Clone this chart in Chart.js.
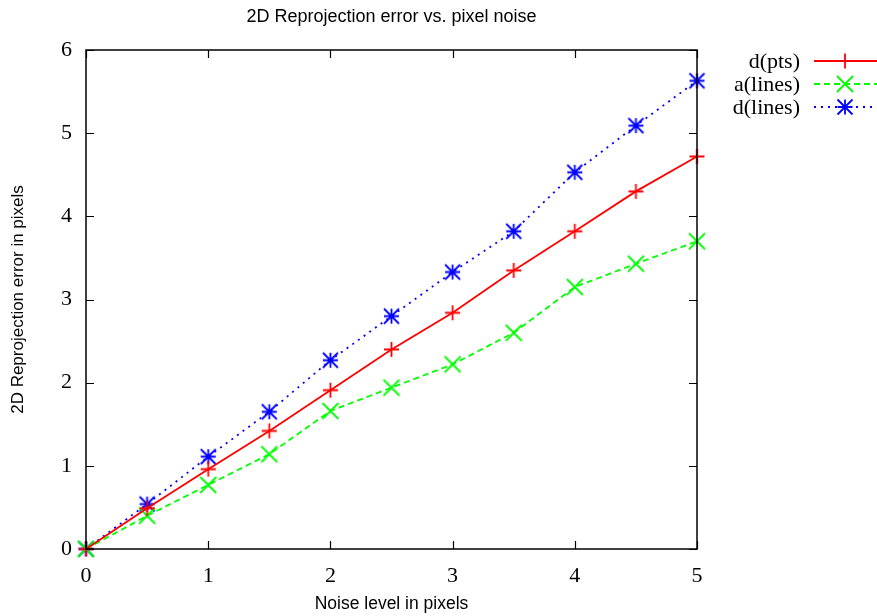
<!DOCTYPE html>
<html>
<head>
<meta charset="utf-8">
<script src="https://cdn.jsdelivr.net/npm/chart.js@4/dist/chart.umd.min.js"></script>
<style>
  html, body { margin: 0; padding: 0; background: #ffffff; }
  #wrap { width: 877px; height: 616px; position: relative; }
</style>
</head>
<body>
<div id="wrap"><canvas id="c" width="877" height="616"></canvas></div>
<script>
// ---- data ----
const noiseLevels = [0, 0.5, 1, 1.5, 2, 2.5, 3, 3.5, 4, 4.5, 5];
const dPts   = [0, 0.49, 0.96, 1.42, 1.91, 2.40, 2.84, 3.35, 3.82, 4.30, 4.72];
const aLines = [0, 0.40, 0.77, 1.14, 1.66, 1.94, 2.22, 2.60, 3.15, 3.43, 3.70];
const dLines = [0, 0.54, 1.11, 1.65, 2.27, 2.80, 3.33, 3.82, 4.53, 5.09, 5.63];
const seriesNames = ['d(pts)', 'a(lines)', 'd(lines)'];
const xTicks = [0, 1, 2, 3, 4, 5];
const yTicks = [0, 1, 2, 3, 4, 5, 6];
const chartTitle = '2D Reprojection error vs. pixel noise';
const xTitle = 'Noise level in pixels';
const yTitle = '2D Reprojection error in pixels';

const SERIF = '"Liberation Serif", "Times New Roman", serif';
const SANS = '"Liberation Sans", Arial, Helvetica, sans-serif';

function pts(ys) { return noiseLevels.map((x, i) => ({ x: x, y: ys[i] })); }

// gnuplot-style marker drawing (plus, x, asterisk with equal half-size s)
function drawMarker(ctx, kind, cx, cy, s) {
  ctx.beginPath();
  if (kind === 'plus' || kind === 'aster') {
    ctx.moveTo(cx - s, cy); ctx.lineTo(cx + s, cy);
    ctx.moveTo(cx, cy - s); ctx.lineTo(cx, cy + s);
  }
  if (kind === 'x' || kind === 'aster') {
    ctx.moveTo(cx - s, cy - s); ctx.lineTo(cx + s, cy + s);
    ctx.moveTo(cx - s, cy + s); ctx.lineTo(cx + s, cy - s);
  }
  ctx.stroke();
}
function markerImage(kind, s, color, lw) {
  const n = Math.ceil(2 * s + 4);
  const c = document.createElement('canvas');
  c.width = n; c.height = n;
  const ctx = c.getContext('2d');
  ctx.strokeStyle = color; ctx.lineWidth = lw;
  drawMarker(ctx, kind, n / 2, n / 2, s);
  return c;
}

const colors = ['#ff0000', '#00ff00', '#0000ff'];
const kinds = ['plus', 'x', 'aster'];
const sizes = [7.5, 8, 7.5];
const dashes = [[], [6, 4], [2, 5]];
const values = [dPts, aLines, dLines];

const frame = {
  id: 'gnuplotFrame',
  afterDatasetsDraw(chart) {
    const ctx = chart.ctx, a = chart.chartArea;
    const xs = chart.scales.x, ys = chart.scales.y;
    ctx.save();
    ctx.strokeStyle = '#000';
    ctx.lineWidth = 1.5;
    ctx.setLineDash([]);
    ctx.strokeRect(a.left, a.top, a.right - a.left, a.bottom - a.top);
    ctx.lineWidth = 1.2;
    const L = 8;
    ctx.beginPath();
    xTicks.forEach(v => {
      const px = Math.round(xs.getPixelForValue(v)) + 0.5;
      ctx.moveTo(px, a.bottom); ctx.lineTo(px, a.bottom - L);
      ctx.moveTo(px, a.top); ctx.lineTo(px, a.top + L);
    });
    yTicks.forEach(v => {
      const py = Math.round(ys.getPixelForValue(v)) + 0.5;
      ctx.moveTo(a.left, py); ctx.lineTo(a.left + L, py);
      ctx.moveTo(a.right, py); ctx.lineTo(a.right - L, py);
    });
    ctx.stroke();

    // legend (gnuplot style, right side)
    const rows = [61, 84, 107];
    chart.data.datasets.forEach((ds, i) => {
      const y = rows[i];
      ctx.fillStyle = '#000';
      ctx.font = '22px ' + SERIF;
      ctx.textAlign = 'right';
      ctx.textBaseline = 'middle';
      ctx.fillText(ds.label, 800, y + 1);
      ctx.strokeStyle = colors[i];
      ctx.lineWidth = ds.borderWidth;
      ctx.setLineDash(ds.borderDash || []);
      ctx.beginPath();
      ctx.moveTo(814, y); ctx.lineTo(877, y);
      ctx.stroke();
      ctx.setLineDash([]);
      ctx.lineWidth = 1.8;
      drawMarker(ctx, kinds[i], 845, y, sizes[i]);
    });
    ctx.restore();
  }
};

new Chart(document.getElementById('c'), {
  type: 'scatter',
  data: {
    datasets: values.map((v, i) => ({
      label: seriesNames[i],
      data: pts(v),
      showLine: true,
      borderColor: colors[i],
      backgroundColor: colors[i],
      borderWidth: 1.8,
      borderDash: dashes[i],
      pointStyle: markerImage(kinds[i], sizes[i], colors[i], 1.8),
      pointRadius: sizes[i],
      pointHoverRadius: sizes[i],
      tension: 0,
      clip: false
    }))
  },
  options: {
    responsive: false,
    animation: false,
    events: [],
    layout: { padding: { left: 0, right: 180, top: 0, bottom: 0 } },
    plugins: {
      legend: { display: false },
      tooltip: { enabled: false },
      title: {
        display: true,
        text: chartTitle,
        fullSize: false,
        color: '#000',
        font: { family: SANS, size: 18, weight: 'normal' },
        padding: { top: 6.5, bottom: 21.9 }
      }
    },
    scales: {
      x: {
        type: 'linear', min: 0, max: 5,
        afterFit(s) { s.height = 67; },
        afterBuildTicks(s) { s.ticks = xTicks.map(v => ({ value: v })); },
        grid: { display: false, drawTicks: false },
        border: { display: false },
        ticks: { color: '#000', font: { family: SERIF, size: 22 }, padding: 14, maxRotation: 0 },
        title: { display: true, text: xTitle, color: '#000', font: { family: SANS, size: 17.5 }, padding: { top: 0, bottom: 1 } }
      },
      y: {
        type: 'linear', min: 0, max: 6,
        afterFit(s) { s.width = 86; },
        afterBuildTicks(s) { s.ticks = yTicks.map(v => ({ value: v })); },
        grid: { display: false, drawTicks: false },
        border: { display: false },
        ticks: { color: '#000', font: { family: SERIF, size: 22 }, padding: 14 },
        title: { display: true, text: yTitle, color: '#000', font: { family: SANS, size: 17 }, padding: { top: 8, bottom: 0 } }
      }
    }
  },
  plugins: [frame]
});
</script>
</body>
</html>
